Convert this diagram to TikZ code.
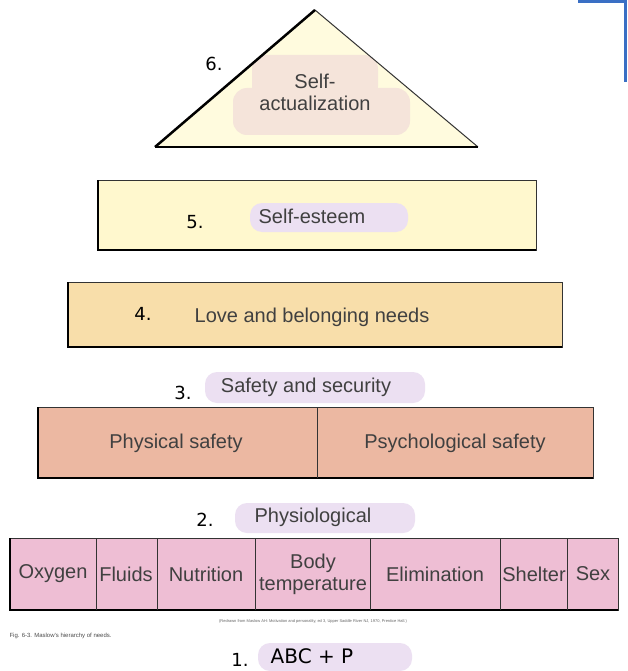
\documentclass[tikz,border=0pt]{standalone}
\usepackage{fontspec}
\setmainfont{Liberation Sans}
\newfontfamily\hand{DejaVu Sans}
\definecolor{blueC}{RGB}{58,111,196}
\definecolor{triF}{RGB}{255,251,222}
\definecolor{triH}{RGB}{245,228,218}
\definecolor{seF}{RGB}{255,248,206}
\definecolor{loveF}{RGB}{248,222,170}
\definecolor{safeF}{RGB}{236,184,162}
\definecolor{physF}{RGB}{238,190,212}
\definecolor{hlF}{RGB}{236,224,242}
\begin{document}
\begin{tikzpicture}[x=1pt,y=-1pt,
  lab/.style={font=\fontsize{20}{22}\selectfont, text=black!75, align=center},
  num/.style={font=\hand\fontsize{18}{20}\selectfont},
  hl/.style={fill=hlF, rounded corners=12pt},
  boxline/.style={draw=black!80, line width=1pt}]
\useasboundingbox (0,0) rectangle (627,671);
\fill[white] (0,0) rectangle (627,671);
\draw[draw=blueC, line width=3pt] (578,2) -- (625,2) -- (625,82);
\fill[triF] (315,10) -- (478,147) -- (155,147) -- cycle;
\fill[triH, rounded corners=14pt] (252,55) rectangle (378,100);
\fill[triH, rounded corners=14pt] (233,88) rectangle (410,135);
\draw[black!80, line width=1pt] (315,10) -- (478,147);
\draw[black, line width=2.5pt] (155,147) -- (315,10);
\draw[black, line width=2.5pt] (155,147) -- (478,147);
\node[lab] (sa) at (315,92) {Self-\\actualization};
\node[num] (n6) at (214,64) {6.};
\fill[seF] (98,180) rectangle (536,250);
\fill[hl] (250,203) rectangle (408,232);
\draw[boxline] (98,180) rectangle (536,250);
\draw[black, line width=2.5pt] (98,180) -- (98,250) -- (536,250);
\node[lab] (se) at (312,216) {Self-esteem};
\node[num] (n5) at (195,222) {5.};
\fill[loveF] (68,282) rectangle (562,347);
\draw[boxline] (68,282) rectangle (562,347);
\draw[black, line width=2.5pt] (68,282) -- (68,347) -- (562,347);
\node[lab] (lb) at (312,317) {Love and belonging needs};
\node[num] (n4) at (143,314) {4.};
\fill[hl] (205,372) rectangle (425,403);
\node[lab] (ss) at (306,387) {Safety and security};
\node[num] (n3) at (183,393) {3.};
\fill[safeF] (38,407) rectangle (593,478);
\draw[boxline] (38,407) rectangle (593,478);
\draw[black, line width=2.5pt] (38,407) -- (38,478) -- (593,478);
\draw[boxline] (317,407) -- (317,478);
\node[lab] (ps) at (176,443) {Physical safety};
\node[lab] (psy) at (455,443) {Psychological safety};
\fill[hl] (235,503) rectangle (415,533);
\node[lab] (ph) at (313,517) {Physiological};
\node[num] (n2) at (205,520) {2.};
\fill[physF] (10,538) rectangle (618,610);
\draw[boxline] (10,538) rectangle (618,610);
\draw[black, line width=2.5pt] (10,538) -- (10,610) -- (618,610);
\foreach \x in {96,157,255,370,500,567} \draw[boxline, line width=0.8pt] (\x,538) -- (\x,610);
\node[lab] (ox) at (53,574) {Oxygen};
\node[lab] (fl) at (126,574) {Fluids};
\node[lab] (nu) at (206,574) {Nutrition};
\node[lab] (bt) at (313,574) {Body\\temperature};
\node[lab] (el) at (435,574) {Elimination};
\node[lab] (sh) at (534,574) {Shelter};
\node[lab] (sx) at (593,574) {Sex};
\node[font=\fontsize{4}{5}\selectfont, text=black!60] (src) at (313,621) {(Redrawn from Maslow AH: Motivation and personality, ed 3, Upper Saddle River NJ, 1970, Prentice Hall.)};
\node[font=\fontsize{6}{7}\selectfont, text=black!70, anchor=west] (fig) at (6,636) {Fig. 6-3. Maslow's hierarchy of needs.};
\fill[hl] (258,643) rectangle (412,671);
\node[num, font=\hand\fontsize{20}{22}\selectfont] (abc) at (312,656) {ABC + P};
\node[num] (n1) at (240,660) {1.};
\end{tikzpicture}
\end{document}
